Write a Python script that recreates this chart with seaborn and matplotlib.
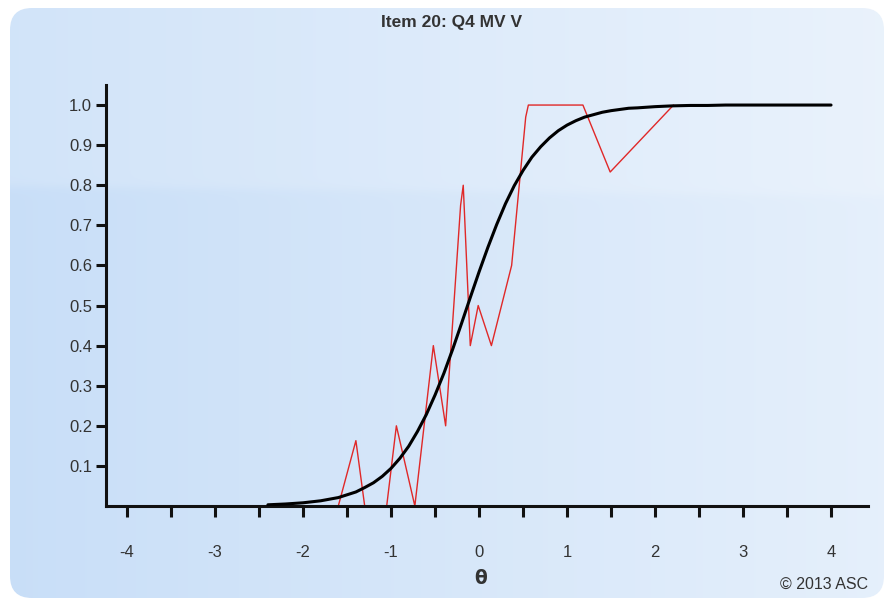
import numpy as np
import pandas as pd
import matplotlib
matplotlib.use("Agg")
import matplotlib.pyplot as plt
from matplotlib.patches import FancyBboxPatch
import seaborn as sns

# Item response function (model) values
theta_irf = [-2.4, -2.2, -2.0, -1.8, -1.6, -1.5, -1.4, -1.3, -1.2, -1.1,
             -1.0, -0.9, -0.8, -0.7, -0.6, -0.5, -0.4, -0.3, -0.2, -0.1,
             0.0, 0.1, 0.2, 0.3, 0.4, 0.5, 0.6, 0.7, 0.8, 0.9,
             1.0, 1.1, 1.2, 1.3, 1.4, 1.5, 1.6, 1.7, 1.8, 2.0,
             2.2, 2.4, 2.6, 2.8, 3.0, 3.2, 3.4, 3.6, 3.8, 4.0]
p_irf = [0.003, 0.005, 0.008, 0.013, 0.021, 0.028, 0.035, 0.046, 0.058, 0.074,
         0.094, 0.119, 0.149, 0.186, 0.228, 0.277, 0.331, 0.391, 0.455, 0.520,
         0.584, 0.645, 0.702, 0.754, 0.799, 0.837, 0.870, 0.896, 0.918, 0.936,
         0.950, 0.961, 0.970, 0.976, 0.982, 0.986, 0.989, 0.992, 0.993, 0.996,
         0.998, 0.999, 0.999, 1.0, 1.0, 1.0, 1.0, 1.0, 1.0, 1.0]

# Observed proportions by ability group
theta_obs = [-1.60, -1.40, -1.30, -1.05, -0.94, -0.73, -0.52, -0.38, -0.21, -0.18,
             -0.10, -0.01, 0.14, 0.37, 0.53, 0.56, 1.18, 1.49, 2.21]
p_obs = [0.00, 0.163, 0.00, 0.00, 0.20, 0.00, 0.40, 0.20, 0.75, 0.80,
         0.40, 0.50, 0.40, 0.60, 0.97, 1.00, 1.00, 0.833, 1.00]

x_ticks = [-4, -3, -2, -1, 0, 1, 2, 3, 4]
y_ticks = [0.1, 0.2, 0.3, 0.4, 0.5, 0.6, 0.7, 0.8, 0.9, 1.0]
title = "Item 20: Q4 MV V"
credit = "\u00a9 2013 ASC"

sns.set_style("ticks")
plt.rcParams["font.family"] = ["Liberation Sans", "DejaVu Sans"]

W, H = 894, 599
fig = plt.figure(figsize=(W / 100, H / 100), dpi=100)
fig.patch.set_facecolor("white")

# Rounded, softly shaded panel behind the chart
bg = fig.add_axes([0, 0, 1, 1], zorder=0)
bg.set_xlim(0, W)
bg.set_ylim(H, 0)
bg.axis("off")
xx, yy = np.meshgrid(np.linspace(0, 1, W), np.linspace(0, 1, H))
left = np.array([0.785, 0.872, 0.972])
right = np.array([0.900, 0.940, 0.985])
img = left[None, None, :] * (1 - xx[..., None]) + right[None, None, :] * xx[..., None]
px = xx * W
py = yy * H
edge = 186 + 10 * (px / W)
# soft transition for the glossy upper band
gloss = 1 / (1 + np.exp((py - edge) / 2.5))
img = img + (1 - img) * 0.17 * gloss[..., None]
img = np.clip(img, 0, 1)
panel = FancyBboxPatch((10, 8), 874, 590, boxstyle="round,pad=0,rounding_size=22",
                       transform=bg.transData, facecolor="none", edgecolor="none")
bg.add_patch(panel)
im = bg.imshow(img, extent=(0, W, H, 0), aspect="auto", interpolation="bilinear")
im.set_clip_path(panel)

# Main plotting area
ax = fig.add_axes([106 / W, 1 - 506 / H, (868 - 106) / W, (506 - 85) / H], zorder=1)
ax.set_facecolor("none")

irf = pd.DataFrame({"theta": theta_irf, "p": p_irf})
obs = pd.DataFrame({"theta": theta_obs, "p": p_obs})
sns.lineplot(data=obs, x="theta", y="p", ax=ax, color="#e02828", lw=1.0,
             sort=False, zorder=2)
sns.lineplot(data=irf, x="theta", y="p", ax=ax, color="black", lw=2.2,
             sort=False, zorder=3)

ax.set_xlim(-4.24, 4.42)
ax.set_ylim(0, 1.05)
ax.set_xticks(x_ticks)
ax.set_xticklabels([str(t) for t in x_ticks])
ax.set_xticks([t + 0.5 for t in x_ticks[:-1]], minor=True)
ax.set_yticks(y_ticks)
ax.set_yticklabels([f"{t:.1f}" for t in y_ticks])

for side in ("top", "right"):
    ax.spines[side].set_visible(False)
for side in ("left", "bottom"):
    ax.spines[side].set_color("#111111")
    ax.spines[side].set_linewidth(2.2)

ax.tick_params(axis="x", which="both", direction="out", length=8, width=2.2,
               color="#111111", labelsize=12, labelcolor="#333333", pad=20)
ax.tick_params(axis="y", which="both", direction="out", length=7, width=2.2,
               color="#111111", labelsize=12, labelcolor="#333333", pad=3)
ax.set_xlabel("")
ax.set_ylabel("")

fig.text(452 / W, 1 - 22 / H, title, ha="center", va="center", fontsize=12.5,
         fontweight="bold", color="#333333")
fig.text(481 / W, 1 - 578 / H, "\u03b8", ha="center", va="center", fontsize=13.5,
         fontweight="bold", color="#333333", family=["DejaVu Sans"])
fig.text(868 / W, 1 - 584 / H, credit, ha="right", va="center", fontsize=11.5,
         color="#333333")

fig.savefig("out.png", dpi=100)
